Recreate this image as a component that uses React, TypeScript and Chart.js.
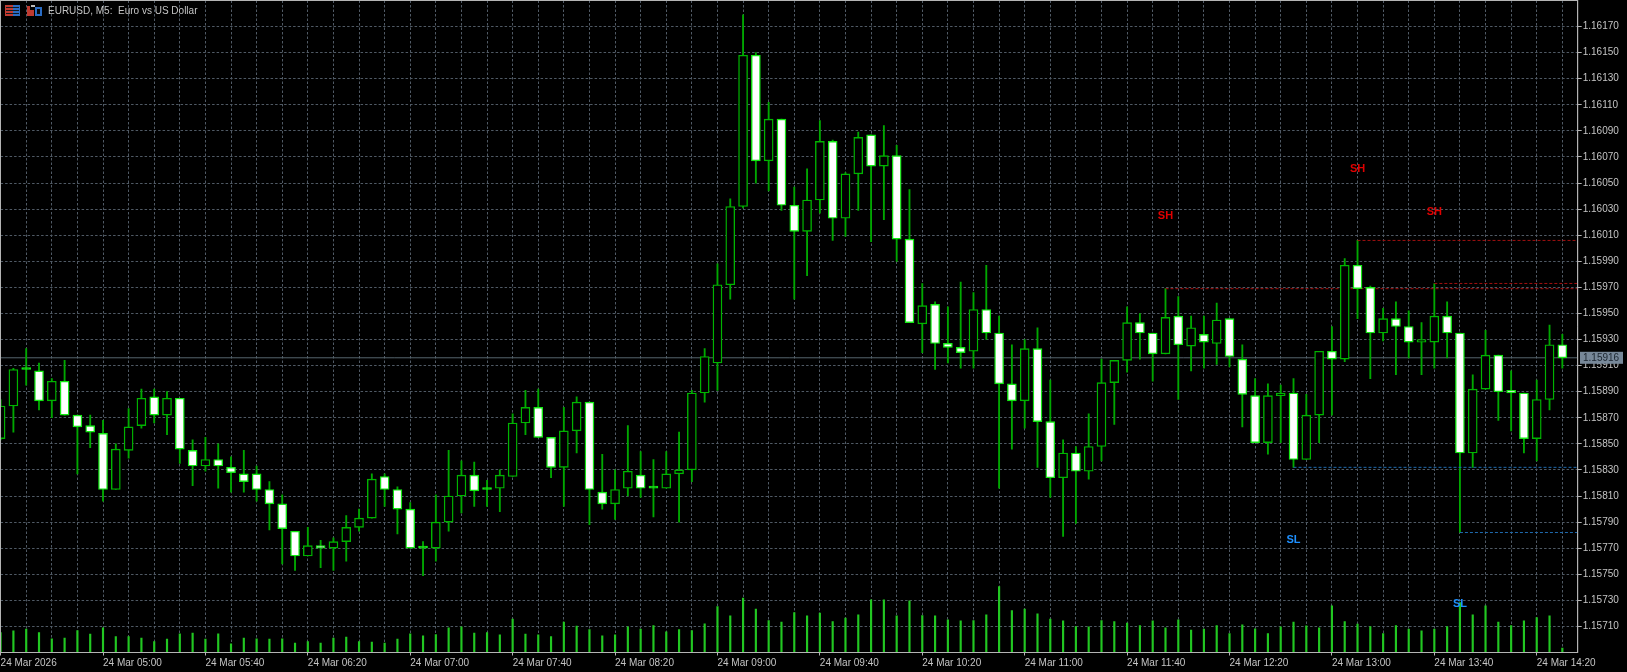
import React, { useEffect, useRef } from "react";
import { Chart, registerables } from "chart.js";

Chart.register(...registerables);

const title = "EURUSD, M5:  Euro vs US Dollar";
const lastPrice = 1.15916;

const priceTicks = [
  1.1571, 1.1573, 1.1575, 1.1577, 1.1579, 1.1581, 1.1583, 1.1585, 1.1587, 1.1589, 1.1591, 1.1593,
  1.1595, 1.1597, 1.1599, 1.1601, 1.1603, 1.1605, 1.1607, 1.1609, 1.1611, 1.1613, 1.1615, 1.1617,
];

const timeLabels = [
  "24 Mar 2026", "24 Mar 05:00", "24 Mar 05:40", "24 Mar 06:20", "24 Mar 07:00", "24 Mar 07:40",
  "24 Mar 08:20", "24 Mar 09:00", "24 Mar 09:40", "24 Mar 10:20", "24 Mar 11:00", "24 Mar 11:40",
  "24 Mar 12:20", "24 Mar 13:00", "24 Mar 13:40", "24 Mar 14:20",
];

const opens = [
  1.15854, 1.15879, 1.15907, 1.15906, 1.15883, 1.15898, 1.15872, 1.15864, 1.15858, 1.15815, 1.15845, 1.15864,
  1.15886, 1.15872, 1.15885, 1.15845, 1.15833, 1.15838, 1.15832, 1.15827, 1.15827, 1.15815, 1.15804, 1.15783,
  1.15764, 1.15772, 1.1577, 1.15775, 1.15786, 1.15793, 1.15825, 1.15815, 1.158, 1.1577, 1.1577, 1.1579,
  1.1581, 1.15826, 1.15815, 1.15816, 1.15825, 1.15866, 1.15878, 1.15855, 1.15832, 1.1586, 1.15882, 1.15813,
  1.15804, 1.15816, 1.15826, 1.15816, 1.15816, 1.15827, 1.1583, 1.15889, 1.15912, 1.15972, 1.16032, 1.16148,
  1.16067, 1.16099, 1.16033, 1.16013, 1.16037, 1.16082, 1.16023, 1.16057, 1.16087, 1.16063, 1.16071, 1.16007,
  1.15942, 1.15957, 1.15927, 1.15924, 1.15921, 1.15953, 1.15935, 1.15896, 1.15883, 1.15923, 1.15867, 1.15824,
  1.15843, 1.15829, 1.15848, 1.15897, 1.15914, 1.15943, 1.15935, 1.15919, 1.15948, 1.15925, 1.15934, 1.15927,
  1.15946, 1.15915, 1.15887, 1.15851, 1.15887, 1.15889, 1.15838, 1.15872, 1.15921, 1.15915, 1.15987, 1.1597,
  1.15935, 1.15946, 1.1594, 1.15928, 1.15928, 1.15948, 1.15935, 1.15843, 1.15892, 1.15918, 1.15891, 1.15889,
  1.15854, 1.15884, 1.15926,
];

const closes = [
  1.15879, 1.15907, 1.15907, 1.15883, 1.15898, 1.15872, 1.15863, 1.15859, 1.15815, 1.15846, 1.15863, 1.15885,
  1.15872, 1.15885, 1.15846, 1.15833, 1.15838, 1.15833, 1.15828, 1.15821, 1.15815, 1.15804, 1.15785, 1.15764,
  1.15772, 1.1577, 1.15775, 1.15786, 1.15793, 1.15823, 1.15815, 1.158, 1.1577, 1.1577, 1.1579, 1.1581,
  1.15826, 1.15814, 1.15815, 1.15826, 1.15866, 1.15878, 1.15855, 1.15832, 1.1586, 1.15882, 1.15815, 1.15804,
  1.15815, 1.15829, 1.15816, 1.15816, 1.15827, 1.1583, 1.15889, 1.15917, 1.15972, 1.16032, 1.16148, 1.16067,
  1.16099, 1.16033, 1.16013, 1.16037, 1.16082, 1.16023, 1.16057, 1.16085, 1.16063, 1.16071, 1.16007, 1.15943,
  1.15956, 1.15927, 1.15924, 1.1592, 1.15953, 1.15935, 1.15896, 1.15883, 1.15923, 1.15867, 1.15824, 1.15843,
  1.15829, 1.15848, 1.15897, 1.15914, 1.15943, 1.15935, 1.15919, 1.15947, 1.15926, 1.15939, 1.15928, 1.15945,
  1.15917, 1.15888, 1.15851, 1.15887, 1.15889, 1.15838, 1.15872, 1.15921, 1.15915, 1.15987, 1.15969, 1.15935,
  1.15946, 1.1594, 1.15928, 1.1593, 1.15948, 1.15935, 1.15843, 1.15892, 1.15918, 1.1589, 1.15889, 1.15854,
  1.15884, 1.15926, 1.15916,
];

const highs = [
  1.15884, 1.15908, 1.15923, 1.15912, 1.159, 1.15914, 1.15872, 1.15872, 1.15868, 1.1585, 1.15877, 1.15892,
  1.15892, 1.1589, 1.15885, 1.15853, 1.15855, 1.1585, 1.1584, 1.15845, 1.15833, 1.15821, 1.15811, 1.15783,
  1.15786, 1.15776, 1.15778, 1.15795, 1.158, 1.15827, 1.15827, 1.15817, 1.15805, 1.15775, 1.15811, 1.15845,
  1.15837, 1.15836, 1.15822, 1.1583, 1.15873, 1.15891, 1.15892, 1.15855, 1.15878, 1.15886, 1.15882, 1.15842,
  1.1583, 1.15864, 1.15844, 1.15838, 1.15844, 1.15859, 1.15891, 1.15923, 1.15988, 1.16038, 1.16179, 1.1615,
  1.16112, 1.16099, 1.16047, 1.16061, 1.16098, 1.16083, 1.16058, 1.16089, 1.16087, 1.16094, 1.16079, 1.16045,
  1.15973, 1.15959, 1.15955, 1.15974, 1.15966, 1.15987, 1.15948, 1.15926, 1.1593, 1.15939, 1.15899, 1.15853,
  1.15848, 1.15873, 1.15915, 1.15914, 1.15955, 1.1595, 1.15935, 1.15969, 1.15963, 1.15948, 1.15948, 1.15958,
  1.15946, 1.15926, 1.159, 1.15896, 1.15895, 1.159, 1.15888, 1.15921, 1.1594, 1.15992, 1.16006, 1.15971,
  1.15954, 1.15959, 1.15952, 1.15943, 1.15973, 1.15959, 1.15935, 1.15903, 1.15937, 1.15918, 1.15906, 1.15889,
  1.15899, 1.15941, 1.15934,
];

const lows = [
  1.15853, 1.15859, 1.15895, 1.15876, 1.1587, 1.15872, 1.15827, 1.15847, 1.15806, 1.15815, 1.15839, 1.15862,
  1.15866, 1.15857, 1.15835, 1.15818, 1.15829, 1.15816, 1.15813, 1.15813, 1.15806, 1.15784, 1.15758, 1.15753,
  1.15764, 1.15755, 1.15753, 1.1576, 1.15783, 1.15793, 1.15802, 1.15781, 1.1577, 1.15749, 1.1576, 1.15783,
  1.15797, 1.15802, 1.15802, 1.15798, 1.15825, 1.15857, 1.15855, 1.15824, 1.15802, 1.15843, 1.15788, 1.158,
  1.15792, 1.1581, 1.15809, 1.15794, 1.15816, 1.1579, 1.15821, 1.15882, 1.15891, 1.15961, 1.16031, 1.1605,
  1.16044, 1.16029, 1.15961, 1.15979, 1.16027, 1.16006, 1.16009, 1.16029, 1.16005, 1.16022, 1.1599, 1.15943,
  1.1592, 1.15907, 1.15912, 1.15908, 1.15908, 1.1593, 1.15816, 1.15846, 1.15862, 1.15832, 1.15809, 1.15779,
  1.15789, 1.15823, 1.15837, 1.15865, 1.15905, 1.15915, 1.15898, 1.15919, 1.15884, 1.15906, 1.15908, 1.15911,
  1.15909, 1.15863, 1.15851, 1.15842, 1.15851, 1.15832, 1.15838, 1.15851, 1.15872, 1.15913, 1.15946, 1.159,
  1.15929, 1.15903, 1.15916, 1.15903, 1.15908, 1.15916, 1.15782, 1.15832, 1.15892, 1.15868, 1.1586, 1.15843,
  1.15837, 1.15876, 1.15908,
];

const volumes = [
  60, 65, 70, 60, 41, 43, 66, 55, 74, 48, 48, 43, 33, 40, 56, 58, 40, 56, 26, 43, 41, 40, 41, 28, 33, 28, 43,
  46, 33, 31, 28, 40, 56, 50, 54, 74, 77, 58, 60, 53, 100, 55, 53, 48, 91, 79, 69, 50, 53, 77, 70, 81, 62, 69,
  66, 86, 138, 110, 163, 130, 96, 91, 120, 110, 118, 93, 103, 113, 158, 158, 110, 155, 111, 110, 98, 95, 96,
  113, 198, 126, 130, 116, 100, 95, 78, 77, 96, 93, 88, 81, 95, 74, 98, 67, 70, 81, 57, 83, 71, 57, 77, 91, 80,
  74, 140, 93, 85, 78, 57, 81, 70, 65, 70, 78, 150, 113, 140, 91, 81, 95, 105, 110, 13,
];

const swingHighLevels = [
  { start: 91, level: 1.15969 },
  { start: 106, level: 1.16006 },
  { start: 112, level: 1.15973 },
];
const swingLowLevels = [
  { start: 101, level: 1.15832 },
  { start: 114, level: 1.15782 },
];
const swingMarks = [
  { text: "SH", x: 91, y: 1.16025, color: "#e00000" },
  { text: "SH", x: 106, y: 1.16061, color: "#e00000" },
  { text: "SH", x: 112, y: 1.16028, color: "#e00000" },
  { text: "SL", x: 101, y: 1.15776, color: "#1e90ff" },
  { text: "SL", x: 114, y: 1.15727, color: "#1e90ff" },
];

const FONT = '10px "Liberation Sans", Arial, sans-serif';
const GRID = "#505a65";
const FRAME = "#b4b4b4";
const TEXT = "#c4c4c4";
const WICK = "#00a800";
const BULL_EDGE = "#00b400";
const BEAR_EDGE = "#14e814";
const X_END = 123.2;

const overlayPlugin = {
  id: "mt5Overlay",
  afterDatasetsDraw(chart: any) {
    const { ctx, chartArea: a, scales } = chart;
    ctx.save();
    ctx.font = 'bold 11px "Liberation Sans", Arial, sans-serif';
    ctx.textAlign = "center";
    ctx.textBaseline = "middle";
    for (const m of swingMarks) {
      ctx.fillStyle = m.color;
      ctx.fillText(m.text, scales.x.getPixelForValue(m.x), scales.y.getPixelForValue(m.y));
    }
    ctx.strokeStyle = FRAME;
    ctx.lineWidth = 1;
    ctx.strokeRect(0.5, 0.5, a.right - 0.5, a.bottom - 0.5);
    ctx.restore();
  },
  afterDraw(chart: any) {
    const { ctx, scales } = chart;
    ctx.save();
    const py = scales.y.getPixelForValue(lastPrice);
    ctx.fillStyle = "#778899";
    ctx.fillRect(1580, py - 6, 43, 12);
    ctx.fillStyle = "#1c2630";
    ctx.font = FONT;
    ctx.textAlign = "left";
    ctx.textBaseline = "middle";
    ctx.fillText(lastPrice.toFixed(5), 1583, py + 0.5);

    // chart-window header icons
    ctx.fillStyle = "#c03a30";
    ctx.fillRect(5, 5, 8, 11);
    ctx.fillStyle = "#2a6cc4";
    ctx.fillRect(13, 5, 7, 11);
    ctx.fillStyle = "#101820";
    ctx.fillRect(6, 7, 13, 1);
    ctx.fillRect(6, 10, 13, 1);
    ctx.fillRect(6, 13, 13, 1);
    ctx.fillStyle = "#c03a30";
    ctx.fillRect(27, 6, 3, 10);
    ctx.fillRect(30, 10, 4, 6);
    ctx.fillStyle = "#2a6cc4";
    ctx.fillRect(35, 7, 7, 9);
    ctx.fillStyle = "#0a0a0a";
    ctx.fillRect(37, 9, 3, 5);
    ctx.fillStyle = "#bbbbbb";
    ctx.fillRect(31, 5, 4, 2);

    ctx.fillStyle = TEXT;
    ctx.font = FONT;
    ctx.textBaseline = "middle";
    ctx.fillText(title, 48, 11.5);
    ctx.restore();
  },
};

const indices = opens.map((_, i) => i);

export default function App() {
  const canvasRef = useRef<HTMLCanvasElement | null>(null);

  useEffect(() => {
    const lastIndex = indices.length - 1;
    const labelStep = 8;
    const xTickValues = indices.filter((i) => i % 2 === 0);

    const levelDataset = (l: { start: number; level: number }, color: string) => ({
      type: "line" as const,
      data: [
        { x: l.start, y: l.level },
        { x: X_END, y: l.level },
      ],
      borderColor: color,
      borderWidth: 1,
      borderDash: [3, 2],
      pointRadius: 0,
      order: 2,
      yAxisID: "y",
    });

    const chart = new Chart(canvasRef.current as HTMLCanvasElement, {
      type: "bar",
      data: {
        datasets: [
          {
            type: "line",
            data: [
              { x: 0, y: lastPrice },
              { x: X_END, y: lastPrice },
            ],
            borderColor: "#55656d",
            borderWidth: 1,
            pointRadius: 0,
            order: 5,
            yAxisID: "y",
          },
          ...swingHighLevels.map((l) => levelDataset(l, "#a01010")),
          ...swingLowLevels.map((l) => levelDataset(l, "#1f6bb0")),
          {
            type: "bar",
            data: indices.map((i) => ({ x: i, y: volumes[i] })),
            backgroundColor: "#22c822",
            barThickness: 1.5,
            grouped: false,
            order: 4,
            yAxisID: "yv",
          },
          {
            type: "bar",
            data: indices.map((i) => ({ x: i, y: [lows[i], highs[i]] })),
            backgroundColor: WICK,
            barThickness: 1.2,
            grouped: false,
            order: 3,
            yAxisID: "y",
          },
          {
            type: "bar",
            data: indices.map((i) => ({ x: i, y: [opens[i], closes[i]] })),
            backgroundColor: indices.map((i) => (closes[i] > opens[i] ? "#000000" : opens[i] === closes[i] ? "#18e018" : "#ffffff")),
            borderColor: indices.map((i) => (closes[i] > opens[i] ? BULL_EDGE : BEAR_EDGE)),
            borderWidth: 1.4,
            borderSkipped: false,
            barThickness: 9,
            minBarLength: 2,
            grouped: false,
            order: 1,
            yAxisID: "y",
          },
        ],
      } as any,
      options: {
        responsive: false,
        animation: false,
        events: [],
        layout: { padding: { left: 0.6, top: 0.5, right: 0, bottom: 0 } },
        plugins: { legend: { display: false }, tooltip: { enabled: false }, title: { display: false } },
        scales: {
          x: {
            type: "linear",
            offset: false,
            min: 0,
            max: X_END,
            afterBuildTicks: (s: any) => {
              s.ticks = xTickValues.map((value) => ({ value }));
            },
            afterFit: (s: any) => {
              s.height = 19.5;
              s.paddingLeft = 0;
              s.paddingRight = 0;
            },
            grid: {
              offset: false,
              color: GRID,
              lineWidth: 1,
              tickLength: 3,
              tickColor: (c: any) => (c.tick && c.tick.value % labelStep === 0 ? FRAME : "transparent"),
              tickBorderDash: [],
            },
            border: { display: true, color: FRAME, dash: [2.5, 2] },
            ticks: {
              autoSkip: false,
              maxRotation: 0,
              minRotation: 0,
              align: "start",
              padding: 2,
              color: TEXT,
              font: { family: '"Liberation Sans", Arial, sans-serif', size: 10 },
              callback: (v: any) => (v % labelStep === 0 && v <= lastIndex ? timeLabels[v / labelStep] : ""),
            },
          },
          y: {
            type: "linear",
            position: "right",
            min: 1.1569,
            max: 1.1619,
            afterBuildTicks: (s: any) => {
              s.ticks = priceTicks.map((value) => ({ value }));
            },
            afterFit: (s: any) => {
              s.width = 49.3;
              s.paddingTop = 0;
              s.paddingBottom = 0;
            },
            grid: {
              color: GRID,
              lineWidth: 1,
              tickLength: 4,
              tickColor: FRAME,
              tickBorderDash: [],
            },
            border: { display: true, color: FRAME, dash: [2.5, 2] },
            ticks: {
              padding: 1,
              color: TEXT,
              font: { family: '"Liberation Sans", Arial, sans-serif', size: 10 },
              callback: (v: any) => Number(v).toFixed(5),
            },
          },
          yv: {
            type: "linear",
            display: false,
            min: 0,
            max: 1956,
            afterFit: (s: any) => {
              s.paddingTop = 0;
              s.paddingBottom = 0;
            },
          },
        },
      } as any,
      plugins: [overlayPlugin],
    });
    return () => chart.destroy();
  }, []);

  return (
    <div style={{ position: "fixed", left: 0, top: 0, width: 1627, height: 672, background: "#000" }}>
      <canvas ref={canvasRef} width={1627} height={672} style={{ display: "block" }} />
    </div>
  );
}
